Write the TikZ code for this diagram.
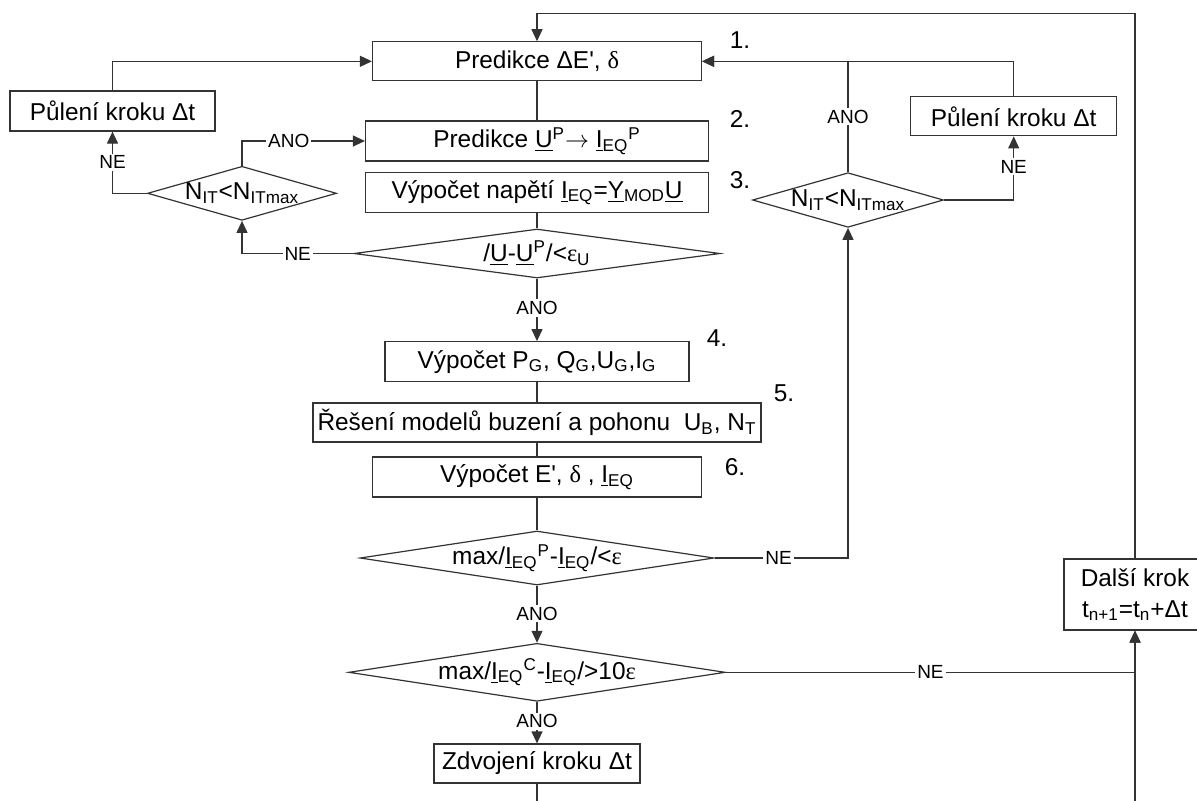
\documentclass[tikz,border=0pt]{standalone}
\usepackage{fontspec}
\newfontfamily\arialf{Liberation Sans}
\newfontfamily\greekf{Liberation Serif}
\usetikzlibrary{arrows.meta,shapes.geometric,positioning}

\newcommand{\dlt}{{\greekf δ}}
\newcommand{\eps}{{\greekf ε}}

\begin{document}
\begin{tikzpicture}[x=0.5pt, y=-0.5pt,
		font=\arialf\fontsize{12.2}{14.5}\selectfont,
		basic/.style = {draw=black!80, line width=0.6pt, rectangle, inner sep=0pt, align=center},
		box/.style   = {basic, minimum height=20pt},
		cond/.style  = {draw=black!80, line width=0.6pt, diamond, inner sep=0pt, aspect=6.5},
		lbl/.style   = {fill=white, inner sep=1pt, font=\arialf\fontsize{9.5}{11}\selectfont},
		num/.style   = {inner sep=0pt},
		line/.style  = {draw=black!80, line width=0.6pt},
		>={Triangle[length=6pt,width=5.5pt]}]
		
		\useasboundingbox (0,0) rectangle (1197,800);
		\clip (0,0) rectangle (1197,800);
		
		% Main column
		\node[box, minimum width=164.5pt, minimum height=19.5pt] (pred) at (537,61.3) {Predikce ΔE', \dlt};
		\node[box, minimum width=171.5pt] (predU) at (537,141) {Predikce \underline{U}\textsuperscript{P}$\rightarrow$ \underline{I}\textsubscript{EQ}\textsuperscript{P}};
		\node[box, minimum width=171.5pt] (vypU) at (537,192.7) {Výpočet napětí \underline{I}\textsubscript{EQ}=\underline{Y}\textsubscript{MOD}\underline{U}};
		\node[cond, aspect=7.5, minimum width=183pt, minimum height=24.5pt] (condU) at (537,253.5) {/\underline{U}-\underline{U}\textsuperscript{P}/<\eps\textsubscript{U}};
		\node[box, minimum width=152pt] (vypPG) at (537,361.7) {Výpočet P\textsubscript{G}, Q\textsubscript{G},U\textsubscript{G},I\textsubscript{G}};
		\node[box, minimum width=224pt, minimum height=19.5pt] (reseni) at (537,422.5) {Řešení modelů buzení a pohonu\ \ U\textsubscript{B}, N\textsubscript{T}};
		\node[box, minimum width=164.5pt] (vypE) at (537,477) {Výpočet E', \dlt\ , \underline{I}\textsubscript{EQ}};
		\node[cond, minimum width=177pt, minimum height=27pt] (condIP) at (537,558) {max/\underline{I}\textsubscript{EQ}\textsuperscript{P}-\underline{I}\textsubscript{EQ}/<\eps};
		\node[cond, minimum width=177pt, minimum height=26.7pt] (condIC) at (537,672.3) {max/\underline{I}\textsubscript{EQ}\textsuperscript{C}-\underline{I}\textsubscript{EQ}/>10\eps};
		\node[box, minimum width=103pt, minimum height=19.5pt] (zdvoj) at (537,763.5) {Zdvojení kroku Δt};
		
		% Side nodes
		\node[box, minimum width=102.5pt] (pulL) at (112.5,111) {Půlení kroku Δt};
		\node[cond, aspect=3.5, minimum width=94.5pt, minimum height=27pt] (condL) at (242,193.3) {N\textsubscript{IT}<N\textsubscript{ITmax}};
		\node[cond, aspect=3.5, minimum width=95.5pt, minimum height=27.3pt] (condR) at (848,200) {N\textsubscript{IT}<N\textsubscript{ITmax}};
		\node[box, minimum width=103pt, minimum height=19.5pt] (pulR) at (1013.7,116.3) {Půlení kroku Δt};
		\node[box, minimum width=71pt, minimum height=35.5pt] (dalsi) at (1135,594.5) {Další krok\\[1pt] t\textsubscript{n+1}=t\textsubscript{n}+Δt};
		
		% Step numbers
		\node[num] (n1) at (740,40) {1.};
		\node[num] (n2) at (740,119) {2.};
		\node[num] (n3) at (740,180) {3.};
		\node[num] (n4) at (717,338) {4.};
		\node[num] (n5) at (784,393) {5.};
		\node[num] (n6) at (735,467) {6.};
		
		\coordinate (topc) at (537,13.3);
		\coordinate (botz) at (537,805);
		\coordinate (botd) at (1135,805);
		
		% Connectors
		\draw[line,->] (dalsi.north) |- (topc) -- (pred.north);
		\draw[line,->] (pulL.north) |- (pred.west);
		\draw[line] (pred) -- (predU);
		\draw[line,->] (condL.north) |- node[lbl, pos=0.69] {ANO} (predU.west);
		\draw[line,->] (condL.west) -| node[lbl, pos=0.75] {NE} (pulL.south);
		\draw[line] (vypU) -- (condU);
		\draw[line,->] (condU.west) -| node[lbl, pos=0.25] {NE} (condL.south);
		\draw[line,->] (condU.south) -- node[lbl, pos=0.47] {ANO} (vypPG.north);
		\draw[line] (vypPG) -- (reseni);
		\draw[line] (reseni) -- (vypE);
		\draw[line] (vypE) -- (condIP);
		\draw[line,->] (condIP.east) -| node[lbl, pos=0.24] {NE} (condR.south);
		\draw[line,->] (condR.north) |- node[lbl, pos=0.25] {ANO} (pred.east);
		\draw[line,->] (condR.east) -| node[lbl, pos=0.76] {NE} (pulR.south);
		\draw[line,->] (pulR.north) |- (pred.east);
		\draw[line,->] (condIP.south) -- node[lbl, pos=0.49] {ANO} (condIC.north);
		\draw[line,->] (condIC.east) -| node[lbl, pos=0.25] {NE} (dalsi.south);
		\draw[line,->] (condIC.south) -- node[lbl, pos=0.47] {ANO} (zdvoj.north);
		\draw[line] (zdvoj.south) -- (botz);
		\draw[line,->] (botd) -- (dalsi.south);
		
	\end{tikzpicture}
\end{document}
